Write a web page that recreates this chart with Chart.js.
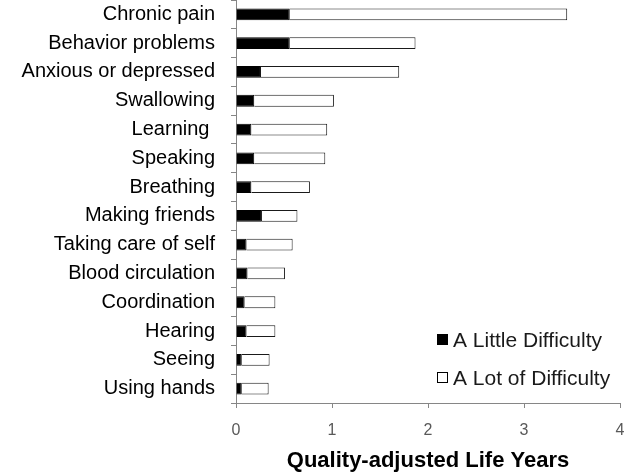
<!DOCTYPE html>
<html>
<head>
<meta charset="utf-8">
<script src="https://cdn.jsdelivr.net/npm/chart.js@4"></script>
<style>
  html, body { margin: 0; padding: 0; background: #fff; }
  #wrap { width: 628px; height: 474px; }
</style>
</head>
<body>
<div id="wrap"><canvas id="qalyChart" width="628" height="474"></canvas></div>
<script>
// categories, top to bottom
const categories = [
  'Chronic pain', 'Behavior problems', 'Anxious or depressed', 'Swallowing',
  'Learning ', 'Speaking', 'Breathing', 'Making friends', 'Taking care of self',
  'Blood circulation', 'Coordination', 'Hearing', 'Seeing', 'Using hands'
];
// QALYs, little difficulty part
const littleDifficulty = [0.56, 0.56, 0.26, 0.19, 0.16, 0.19, 0.16, 0.27, 0.11, 0.12, 0.09, 0.11, 0.06, 0.06];
// QALYs, lot of difficulty part (stacked on top)
const lotDifficulty = [2.89, 1.31, 1.44, 0.83, 0.79, 0.74, 0.61, 0.37, 0.48, 0.39, 0.32, 0.30, 0.29, 0.28];
const xTicks = [0, 1, 2, 3, 4];

const FONT = '"Liberation Sans", Arial, sans-serif';

// legend drawn inside the plot, bottom right
const insideLegend = {
  id: 'insideLegend',
  afterDraw(chart) {
    const c = chart.ctx;
    c.save();
    c.font = '21px ' + FONT;
    c.textBaseline = 'middle';
    const ys = [340, 378];
    chart.data.datasets.forEach((ds, i) => {
      c.fillStyle = ds.backgroundColor;
      c.strokeStyle = '#000';
      c.lineWidth = 1;
      c.fillRect(437.5, ys[i] - 5.5, 10, 10);
      c.strokeRect(437.5, ys[i] - 5.5, 10, 10);
      c.fillStyle = '#1a1a1a';
      c.fillText(ds.label, 453, ys[i] + 1);
    });
    c.restore();
  }
};

const ctx = document.getElementById('qalyChart').getContext('2d');
new Chart(ctx, {
  type: 'bar',
  data: {
    labels: categories,
    datasets: [{
      label: 'A Little Difficulty',
      data: littleDifficulty,
      backgroundColor: '#000000',
      borderColor: '#000000',
      borderWidth: 1,
      barPercentage: 0.82,
      categoryPercentage: 0.5
    }, {
      label: 'A Lot of Difficulty',
      data: lotDifficulty,
      backgroundColor: '#ffffff',
      borderColor: '#1a1a1a',
      borderWidth: 1,
      barPercentage: 0.82,
      categoryPercentage: 0.5
    }]
  },
  options: {
    indexAxis: 'y',
    responsive: false,
    animation: false,
    layout: { padding: { top: 0, right: 8, bottom: 0, left: 0 } },
    plugins: {
      legend: { display: false },
      tooltip: { enabled: false }
    },
    scales: {
      x: {
        stacked: true,
        min: 0,
        max: 4,
        afterBuildTicks: (scale) => { scale.ticks = xTicks.map(v => ({ value: v })); },
        afterFit: (scale) => { scale.height = 71; scale.paddingLeft = 0; scale.paddingRight = 0; },
        border: { color: '#868686', width: 1 },
        grid: { drawOnChartArea: false, color: '#868686', tickLength: 5 },
        ticks: {
          color: '#595959',
          padding: 13,
          font: { family: FONT, size: 16 }
        },
        title: {
          display: true,
          text: 'Quality-adjusted Life Years',
          color: '#000',
          padding: { top: 0, bottom: 0 },
          font: { family: FONT, size: 22, weight: 'bold' }
        }
      },
      y: {
        stacked: true,
        afterFit: (scale) => { scale.width = 236; scale.paddingTop = 0; scale.paddingBottom = 0; },
        border: { color: '#868686', width: 1 },
        grid: { drawOnChartArea: false, color: '#868686', tickLength: 5, offset: true },
        ticks: {
          color: '#000',
          padding: 16,
          font: { family: FONT, size: 20 }
        }
      }
    }
  },
  plugins: [insideLegend]
});
</script>
</body>
</html>
